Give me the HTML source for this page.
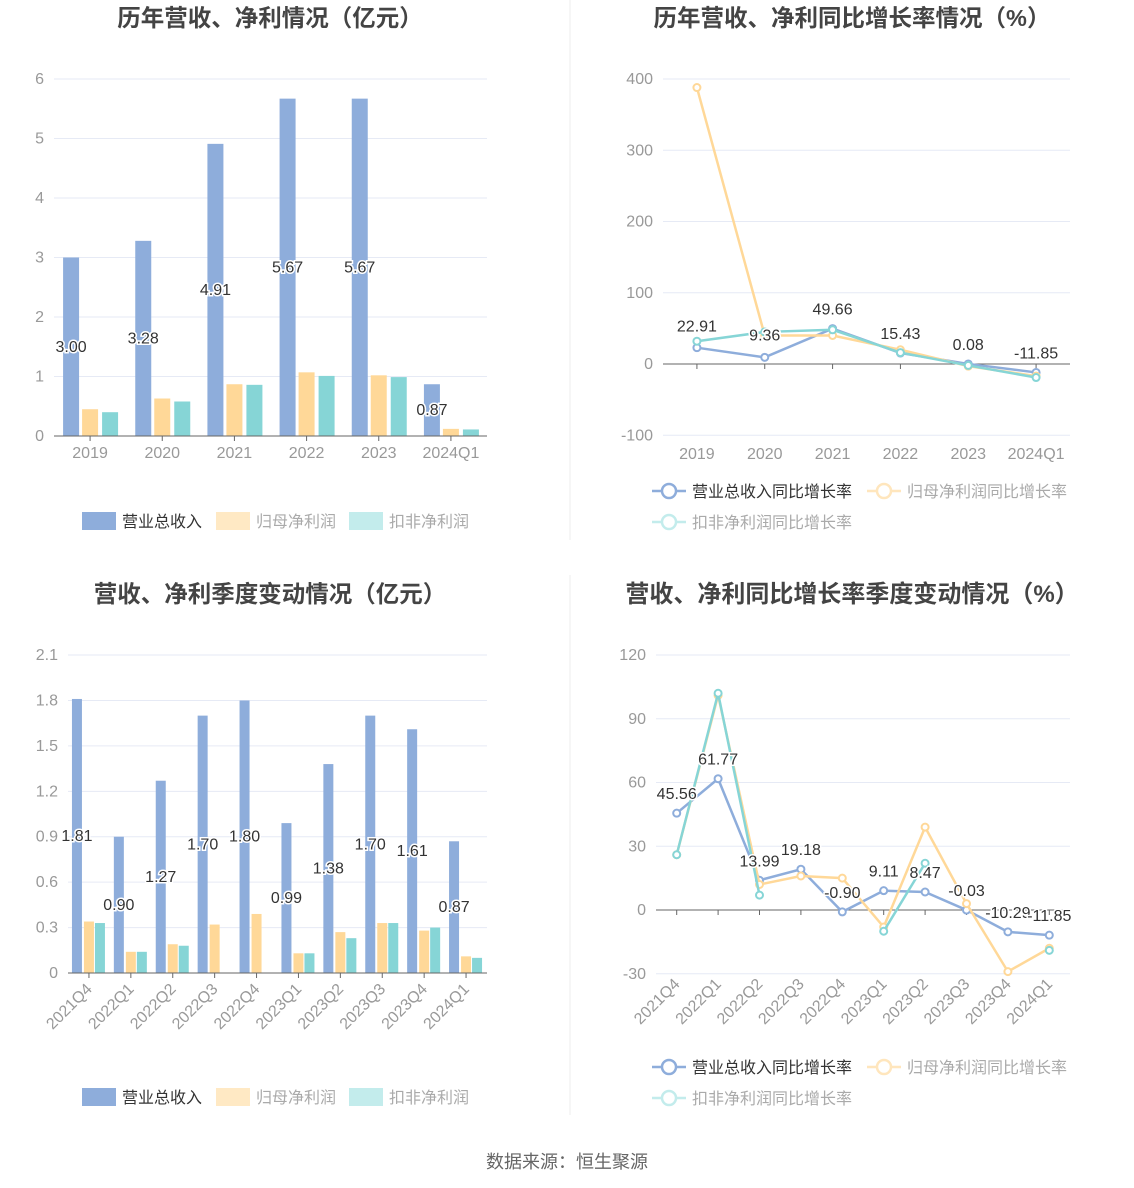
<!DOCTYPE html>
<html><head><meta charset="utf-8"><style>
body{margin:0;background:#fff;}
svg{display:block;font-family:"Liberation Sans","Noto Sans CJK SC",sans-serif;}
</style></head><body>
<svg id="s" width="1134" height="1188" xmlns="http://www.w3.org/2000/svg"></svg>
<script>
const S=document.getElementById('s');let h='';
const B='#8eaddb',Y='#ffd898',T='#86d5d6';
function t(x,y,s,o){o=o||{};h+=`<text x="${x}" y="${y}" font-size="${o.fs||15}" fill="${o.c||'#999'}" text-anchor="${o.a||'middle'}" ${o.w?'font-weight="bold"':''} ${o.tr?`transform="${o.tr}"`:''} ${o.st?'stroke="#fff" stroke-width="3" paint-order="stroke"':''}>${s}</text>`;}
function l(x1,y1,x2,y2,c,w){h+=`<line x1="${x1}" y1="${y1}" x2="${x2}" y2="${y2}" stroke="${c}" stroke-width="${w||1}"/>`;}
function r(x,y,w,hh,c){if(hh<0){y+=hh;hh=-hh;}h+=`<rect x="${x}" y="${y}" width="${w}" height="${hh}" fill="${c}"/>`;}
t(270,26,'历年营收、净利情况（亿元）',{fs:23.5,w:1,c:'#444'});
t(852,26,'历年营收、净利同比增长率情况（%）',{fs:23.5,w:1,c:'#444'});
t(270,602,'营收、净利季度变动情况（亿元）',{fs:23.5,w:1,c:'#444'});
t(852,602,'营收、净利同比增长率季度变动情况（%）',{fs:24,w:1,c:'#444'});
l(570,0,570,540,'#eee');l(570,575,570,1115,'#eee');
t(567,1168,'数据来源：恒生聚源',{fs:18,c:'#666'});
function grid(x0,x1,ticks,yf,lab){ticks.forEach(v=>{const y=yf(v);if(v!==0)l(x0,y,x1,y,'#e6eaf5');t(x0-10,y+5,lab(v),{a:'end',fs:16});});}
{const x0=54,x1=487,yf=v=>436-v*59.5,st=(x1-x0)/6;
grid(x0,x1,[0,1,2,3,4,5,6],yf,v=>v);
const R=[3.00,3.28,4.91,5.67,5.67,0.87],N=[0.45,0.63,0.87,1.07,1.02,0.12],D=[0.40,0.58,0.86,1.01,0.99,0.11];
const cat=['2019','2020','2021','2022','2023','2024Q1'];
cat.forEach((c,i)=>{const cx=x0+st*(i+.5);r(cx-27,yf(R[i]),16,436-yf(R[i]),B);r(cx-8,yf(N[i]),16,436-yf(N[i]),Y);r(cx+12,yf(D[i]),16,436-yf(D[i]),T);
l(cx,436,cx,441,'#666');t(cx,458,c,{fs:16});});
l(x0,436,x1,436,'#666');
cat.forEach((c,i)=>{const cx=x0+st*(i+.5);t(cx-19,(yf(R[i])+436)/2+5,R[i].toFixed(2),{c:'#333',st:1,fs:16});});
}
function bleg(y){r(82,y-9,34,18,B);t(122,y+6,'营业总收入',{a:'start',c:'#333',fs:16});r(216,y-9,34,18,'#ffe9c4');t(256,y+6,'归母净利润',{a:'start',c:'#aaa',fs:16});r(349,y-9,34,18,'#c3ecec');t(389,y+6,'扣非净利润',{a:'start',c:'#aaa',fs:16});}
bleg(521);bleg(1097);
{const x0=68,x1=487,yf=v=>973-v*151.4,st=(x1-x0)/10;
grid(x0,x1,[0,0.3,0.6,0.9,1.2,1.5,1.8,2.1],yf,v=>v===0?'0':v.toFixed(1));
const R=[1.81,0.90,1.27,1.70,1.80,0.99,1.38,1.70,1.61,0.87],N=[0.34,0.14,0.19,0.32,0.39,0.13,0.27,0.33,0.28,0.11],D=[0.33,0.14,0.18,0,0,0.13,0.23,0.33,0.30,0.10];
const cat=['2021Q4','2022Q1','2022Q2','2022Q3','2022Q4','2023Q1','2023Q2','2023Q3','2023Q4','2024Q1'];
cat.forEach((c,i)=>{const cx=x0+st*(i+.5);r(cx-17,yf(R[i]),10,973-yf(R[i]),B);r(cx-5,yf(N[i]),10,973-yf(N[i]),Y);if(D[i])r(cx+6,yf(D[i]),10,973-yf(D[i]),T);
l(cx,973,cx,978,'#666');t(cx+4,990,c,{a:'end',fs:16,tr:`rotate(-45 ${cx+4} 990)`});});
l(x0,973,x1,973,'#666');
cat.forEach((c,i)=>{const cx=x0+st*(i+.5);t(cx-12,(yf(R[i])+973)/2+5,R[i].toFixed(2),{c:'#333',st:1,fs:16});});
}
function series(xs,vals,yf,c){let d='';let pen=false;vals.forEach((v,i)=>{if(v===null){pen=false;return;}d+=(pen?'L':'M')+xs[i]+' '+yf(v)+' ';pen=true;});
h+=`<path d="${d}" fill="none" stroke="${c}" stroke-width="2.5"/>`;vals.forEach((v,i)=>{if(v!==null)h+=`<circle cx="${xs[i]}" cy="${yf(v)}" r="3.5" fill="#fff" stroke="${c}" stroke-width="2"/>`;});}
function lleg(y1,y2){h+=`<line x1="652" y1="${y1}" x2="686" y2="${y1}" stroke="${B}" stroke-width="2.5"/><circle cx="669" cy="${y1}" r="7" fill="#fff" stroke="${B}" stroke-width="2.5"/>`;t(692,y1+6,'营业总收入同比增长率',{a:'start',c:'#333',fs:16});
h+=`<line x1="867" y1="${y1}" x2="901" y2="${y1}" stroke="#ffe6bd" stroke-width="2.5"/><circle cx="884" cy="${y1}" r="7" fill="#fff" stroke="#ffe6bd" stroke-width="2.5"/>`;t(907,y1+6,'归母净利润同比增长率',{a:'start',c:'#aaa',fs:16});
h+=`<line x1="652" y1="${y2}" x2="686" y2="${y2}" stroke="#c3ecec" stroke-width="2.5"/><circle cx="669" cy="${y2}" r="7" fill="#fff" stroke="#c3ecec" stroke-width="2.5"/>`;t(692,y2+6,'扣非净利润同比增长率',{a:'start',c:'#aaa',fs:16});}
{const x0=663,x1=1070,yf=v=>364-v*0.7125,st=(x1-x0)/6;
grid(x0,x1,[-100,0,100,200,300,400],yf,v=>v);
l(x0,364,x1,364,'#666');
const cat=['2019','2020','2021','2022','2023','2024Q1'];const xs=cat.map((c,i)=>x0+st*(i+.5));
cat.forEach((c,i)=>{l(xs[i],364,xs[i],369,'#666');t(xs[i],459,c,{fs:16});});
const Bv=[22.91,9.36,49.66,15.43,0.08,-11.85];
series(xs,Bv,yf,B);series(xs,[388,40,40,20,-3,-17],yf,Y);series(xs,[32,45,48,16,-2,-19],yf,T);
Bv.forEach((v,i)=>t(xs[i],yf(v)-14-(i==0?2:0)+(i==1?-3:0),v.toFixed(2),{c:'#333',st:1,fs:16}));
lleg(491,522);}
{const x0=656,x1=1070,yf=v=>910-v*2.125,st=(x1-x0)/10;
grid(x0,x1,[-30,0,30,60,90,120],yf,v=>v);
l(x0,910,x1,910,'#666');
const cat=['2021Q4','2022Q1','2022Q2','2022Q3','2022Q4','2023Q1','2023Q2','2023Q3','2023Q4','2024Q1'];const xs=cat.map((c,i)=>x0+st*(i+.5));
cat.forEach((c,i)=>{l(xs[i],910,xs[i],915,'#666');t(xs[i]+4,985,c,{a:'end',fs:16,tr:`rotate(-45 ${xs[i]+4} 985)`});});
const Bv=[45.56,61.77,13.99,19.18,-0.90,9.11,8.47,-0.03,-10.29,-11.85];
series(xs,Bv,yf,B);series(xs,[26,101,12,16,15,-8,39,3,-29,-18],yf,Y);series(xs,[26,102,7,null,null,-10,22,null,null,-19],yf,T);
Bv.forEach((v,i)=>t(xs[i],yf(v)-14,v.toFixed(2),{c:'#333',st:1,fs:16}));
lleg(1067,1098);}
S.innerHTML=h;
</script>
</body></html>
